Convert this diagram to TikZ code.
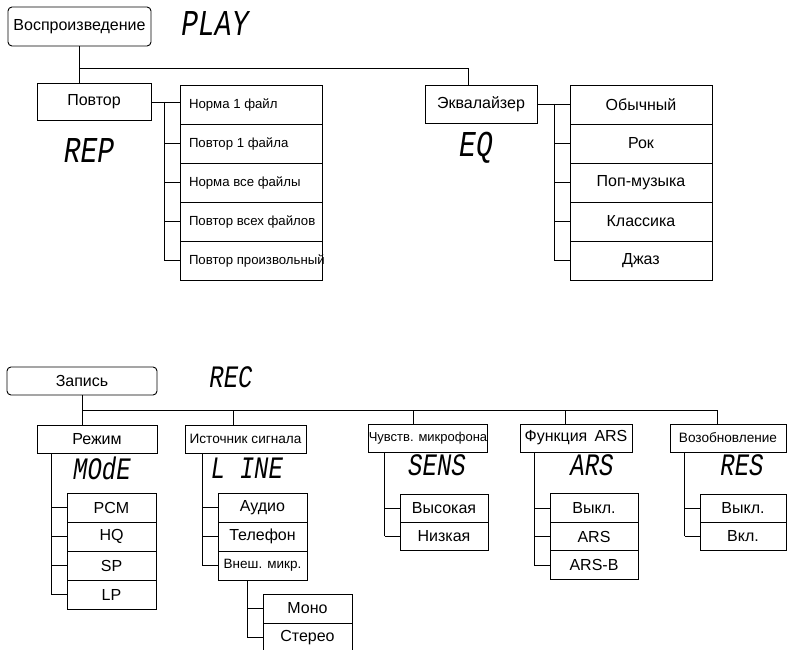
\documentclass[tikz,border=0pt]{standalone}
\usepackage{fontspec}
\usepackage{graphicx}
\setmainfont{Liberation Sans}
\newfontfamily\lcdfont{Liberation Mono}
\usetikzlibrary{positioning}

% display text of the recorder (slanted, stretched)
\newcommand{\lcdtext}[1]{\scalebox{1}[1.3]{\lcdfont\itshape #1}}

\tikzset{
  rootbox/.style={draw, rounded corners=4pt, inner sep=0pt, font=\fontsize{16}{18}\selectfont},
  menubox/.style={draw, inner sep=0pt, font=\fontsize{16}{18}\selectfont},
  smallbox/.style={menubox, font=\fontsize{13.6}{15}\selectfont},
  itembox/.style={draw, inner sep=0pt, font=\fontsize{16}{18}\selectfont},
  leftitem/.style={draw, inner ysep=0pt, inner xsep=9pt,
    minimum width=142pt, minimum height=39pt, font=\fontsize{13.2}{15}\selectfont},
  lcd/.style={inner sep=0pt, font=\fontsize{24}{24}\selectfont},
  lcdbig/.style={inner sep=0pt, font=\fontsize{28}{28}\selectfont},
}

\begin{document}
\begin{tikzpicture}[x=1pt, y=-1pt, line width=0.9pt]
  \useasboundingbox (0,0) rectangle (787,650);

  % --- playback menu ---
  \node[rootbox, minimum width=143pt, minimum height=39pt] (play) at (79.5,26.5) {Воспроизведение};
  \node[lcdbig] (playlcd) at (215,24) {\lcdtext{PLAY}};
  \node[menubox, minimum width=114pt, minimum height=37pt] (rep) at (94,102) {Повтор};
  \node[menubox, minimum width=112pt, minimum height=38pt] (eq) at (481,104) {Эквалайзер};
  \node[lcdbig] (replcd) at (89,151) {\lcdtext{REP}};
  \node[lcdbig] (eqlcd) at (476,148) {\lcdtext{EQ}};

  \draw (play.south) -- (play.south |- rep.north);
  \draw (play.south |- 0,68) -| ([xshift=-13pt]eq.north);

  % --- repeat modes ---
  \foreach \t [count=\i] in {Норма 1 файл, Повтор 1 файла, Норма все файлы, Повтор всех файлов, Повтор произвольный}
    \node[leftitem] (rep\i) at (251,65.5+\i*39) {\makebox[124pt][l]{\t}};

  % --- equalizer presets ---
  \foreach \t [count=\i] in {Обычный, Рок, Поп-музыка, Классика, Джаз}
    \node[itembox, minimum width=142pt, minimum height=39pt] (eq\i) at (641,65.5+\i*39) {\t};

  % --- side trunks of the upper lists ---
  \foreach \p in {rep, eq} {
    \coordinate (\p trunk) at ([xshift=-15pt]\p1.west);
    \draw (\p.east) -- (\p.east -| \p1.west);
    \draw (\p trunk |- \p.east) -- ([xshift=-15pt]\p5.west);
    \foreach \i in {2,...,5}
      \draw ([xshift=-15pt]\p\i.west) -- (\p\i.west);
  }

  % --- record menu ---
  \node[rootbox, minimum width=150pt, minimum height=28pt] (rec) at (82,381) {Запись};
  \node[lcd] (reclcd) at (231,377) {\lcdtext{REC}};

  \node[menubox, minimum width=120pt, minimum height=28pt] (mode) at (97,439) {Режим};
  \node[smallbox, minimum width=121pt, minimum height=28pt] (line) at (245.5,439) {Источник сигнала};
  \node[smallbox, minimum width=118pt, minimum height=28pt, font=\fontsize{13}{15}\selectfont]
    (sens) at (428,438) {Чувств. микрофона};
  \node[menubox, minimum width=112pt, minimum height=28pt] (ars) at (576,438) {Функция\, ARS};
  \node[smallbox, minimum width=116pt, minimum height=28pt] (res) at (728,438) {Возобновление};

  \node[lcd] (modelcd) at (102,468) {\lcdtext{MOdE}};
  \node[lcd] (linelcd) at (247,468) {\lcdtext{L INE}};
  \node[lcd] (senslcd) at (437,465) {\lcdtext{SENS}};
  \node[lcd] (arslcd) at (592,465) {\lcdtext{ARS}};
  \node[lcd] (reslcd) at (742,465) {\lcdtext{RES}};

  % --- bus from the record menu ---
  \coordinate (bus) at (rec.south |- 0,410);
  \draw (rec.south) -- (rec.south |- mode.north);
  \draw (bus) -| ([xshift=-11pt]res.north);
  \foreach \n/\dx in {line/-12.5, sens/-15, ars/-11} {
    \coordinate (\n top) at ([xshift=\dx pt]\n.north);
    \draw (\n top) -- (\n top |- bus);
  }

  % --- sub items ---
  \foreach \t [count=\i] in {PCM, HQ, SP, LP}
    \node[itembox, minimum width=89pt, minimum height=29pt] (mode\i) at (111.5,478.5+\i*29) {\t};
  \foreach \t [count=\i] in {Аудио, Телефон}
    \node[itembox, minimum width=89pt, minimum height=29pt] (line\i) at (262.5,478.5+\i*29) {\t};
  \node[itembox, minimum width=89pt, minimum height=29pt, font=\fontsize{13.5}{15}\selectfont]
    (line3) at (262.5,565.5) {Внеш. микр.};
  \foreach \t [count=\i] in {Моно, Стерео}
    \node[itembox, minimum width=89pt, minimum height=29pt] (mic\i) at (307.5,579.5+\i*29) {\t};
  \foreach \t [count=\i] in {Высокая, Низкая}
    \node[itembox, minimum width=88pt, minimum height=28pt] (sens\i) at (444,480+\i*28) {\t};
  \foreach \t [count=\i] in {Выкл., ARS, ARS-B}
    \node[itembox, minimum width=88pt, minimum height=28.5pt] (ars\i) at (594,479.5+\i*28.5) {\t};
  \foreach \t [count=\i] in {Выкл., Вкл.}
    \node[itembox, minimum width=86pt, minimum height=28pt] (res\i) at (743,480+\i*28) {\t};

  % --- trunks below the record menus ---
  \foreach \p/\m/\n in {mode/mode/4, line/line/3, sens/sens/2, ars/ars/2, res/res/2, line3/mic/2} {
    \coordinate (\m trunk) at ([xshift=-15pt]\m1.west);
    \draw (\m trunk |- \p.south) -- ([xshift=-15pt]\m\n.west);
    \foreach \i in {1,...,\n}
      \draw ([xshift=-15pt]\m\i.west) -- (\m\i.west);
  }
  \draw ([xshift=-15pt]ars2.west) -- ([xshift=-15pt]ars3.west) -- (ars3.west);
\end{tikzpicture}
\end{document}
